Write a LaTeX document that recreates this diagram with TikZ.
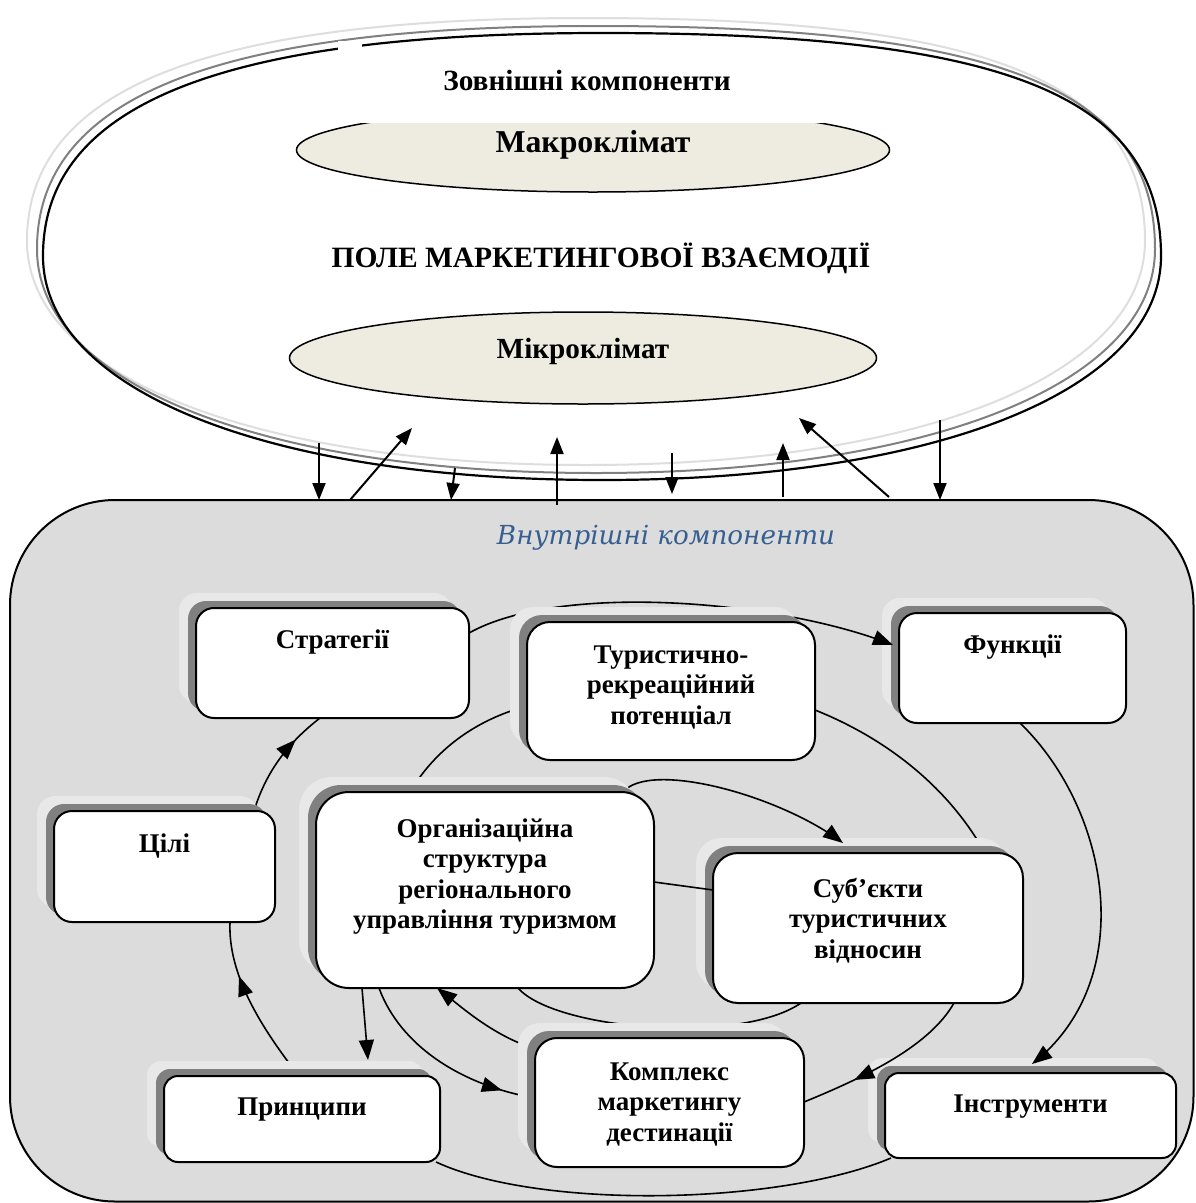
\documentclass[tikz,border=0pt]{standalone}
\usepackage{fontspec}
\setmainfont{Liberation Serif}
\newfontfamily\blueserif{DejaVu Serif}
\usetikzlibrary{arrows.meta,calc,decorations.markings,shapes.geometric}
\pgfdeclarelayer{back}
\pgfdeclarelayer{conn}
\pgfdeclarelayer{front}
\pgfsetlayers{back,conn,main,front}

\definecolor{panelgray}{RGB}{220,220,220}
\definecolor{halogray}{RGB}{232,232,232}
\definecolor{shadowgray}{RGB}{128,128,128}
\definecolor{climfill}{RGB}{238,236,225}
\definecolor{ringlight}{RGB}{222,222,222}
\definecolor{innerblue}{RGB}{54,95,145}

\tikzset{
  tip/.style={-{Triangle[length=20pt,width=15pt]}},
  smalltip/.style={-{Triangle[length=17pt,width=13pt]}},
  conline/.style={line width=1.6pt},
  linkarrow/.style={line width=2pt, smalltip},
  boxtext/.style={font=\fontsize{27}{30.5}\selectfont\bfseries, align=center, inner sep=0pt, anchor=north},
  whitebox/.style={draw, line width=2pt, fill=white, inner sep=0pt, outer sep=0pt},
  midtip/.style={postaction={decorate}, decoration={markings, mark=at position #1 with {\arrow{Triangle[length=20pt,width=15pt]}}}},
  climate/.style={draw, line width=1.5pt, fill=climfill, ellipse, inner sep=0pt},
  lbl/.style={font=\bfseries, anchor=base, inner sep=0pt},
}

\newcommand{\ringpath}{(43,256) .. controls (43,104) and (222,33) .. (602,33)
  .. controls (1004,33) and (1161,95) .. (1161,256)
  .. controls (1161,390) and (937,480) .. (602,480)
  .. controls (267,480) and (43,390) .. (43,256) -- cycle}

\newcommand{\shbox}[8]{%
  \fill[halogray, rounded corners=#6pt] (#2-17,#3-15) rectangle (#4-17,#5-15);
  \fill[shadowgray, rounded corners=#6pt] (#2-8,#3-7) rectangle (#4-8,#5-7);
  \node[whitebox, rounded corners=#6pt, minimum width={(#4-#2)*1pt}, minimum height={(#5-#3)*1pt}] (#1) at ({(#2+#4)/2},{(#3+#5)/2}) {};
  \node[boxtext] (#1-t) at ({(#2+#4)/2},{#8-21.35}) {\strut #7};
}

\begin{document}
\begin{tikzpicture}[x=1pt,y=-1pt]
\useasboundingbox (0,0) rectangle (1195,1203);

\begin{pgfonlayer}{back}
  \fill[white] (0,0) rectangle (1195,1203);
  % field of marketing interaction
  \draw[ringlight, line width=2pt, shift={(-16,-15)}] \ringpath;
  \draw[shadowgray, line width=2pt, shift={(-6,-7)}] \ringpath;
  \draw[black, line width=2.2pt] \ringpath;
  \fill[white] (338,41) rectangle (362,53);
  % climate ellipses
  \node[climate, minimum width=593pt, minimum height=84pt] (macro) at (593,150) {};
  \fill[white] (285,95) rectangle (905,123);
  \node[climate, minimum width=587pt, minimum height=92pt] (micro) at (583,358) {};
  % inner panel
  \node[draw, line width=2pt, fill=panelgray, rounded corners=105pt, minimum width=1183.5pt, minimum height=701.5pt, inner sep=0pt, outer sep=0pt] (inner) at (601.75,850.75) {};
\end{pgfonlayer}

\node[lbl, font=\fontsize{29.3}{33}\selectfont\bfseries] (outerlbl) at (587,90) {Зовнішні компоненти};
\node[lbl, font=\fontsize{31.8}{35}\selectfont\bfseries] (macrolbl) at (macro |- 0,152) {Макроклімат};
\node[lbl, font=\fontsize{29.5}{33}\selectfont\bfseries] (fieldlbl) at (601,267) {ПОЛЕ МАРКЕТИНГОВОЇ ВЗАЄМОДІЇ};
\node[lbl, font=\fontsize{29.2}{33}\selectfont\bfseries] (microlbl) at (micro |- 0,358) {Мікроклімат};
\node[anchor=base, inner sep=0pt, font=\blueserif\itshape\fontsize{26.2}{30}\selectfont, text=innerblue] (innerlbl) at (666,544) {Внутрішні компоненти};

% links between field and inner components
\coordinate (e1) at (319,443);
\coordinate (e2) at (412,428);
\coordinate (e3) at (455,468);
\coordinate (e4) at (557,437);
\coordinate (e5) at (672,453);
\coordinate (e6) at (783,443);
\coordinate (e7) at (799,418);
\coordinate (e8) at (940,420);
\draw[linkarrow] (e1) -- ([xshift=-282.75pt]inner.north);
\draw[linkarrow] ([xshift=-251.75pt]inner.north) -- (e2);
\draw[linkarrow] (e3) -- ([xshift=-150.75pt]inner.north);
\draw[linkarrow] ([xshift=-44.75pt,yshift=-5pt]inner.north) -- (e4);
\draw[linkarrow] (e5) -- ([xshift=70.25pt,yshift=6pt]inner.north);
\draw[linkarrow] ([xshift=181.25pt,yshift=3pt]inner.north) -- (e6);
\draw[linkarrow] ([xshift=287.25pt,yshift=3pt]inner.north) -- (e7);
\draw[linkarrow] (e8) -- ([xshift=338.25pt]inner.north);

% boxes
\shbox{strat}{196}{608}{469}{718}{18}{Стратегії}{648}
\shbox{tur}{527}{622}{815}{760}{23}{Туристично-\\рекреаційний\\потенціал}{663}
\shbox{func}{899}{613}{1126}{723}{18}{Функції}{653}
\shbox{cili}{54}{811}{275}{922}{18}{Цілі}{852}
\shbox{org}{316}{792}{654}{988}{33}{Організаційна\\структура\\регіонального\\управління туризмом}{837}
\shbox{subj}{713}{853}{1023}{1003}{25}{Суб’єкти\\туристичних\\відносин}{897}
\shbox{princ}{164}{1076}{440}{1162}{14}{Принципи}{1115}
\shbox{kompl}{535}{1038}{804}{1167}{22}{Комплекс\\маркетингу\\дестинації}{1080}
\shbox{instr}{885}{1073}{1176}{1158}{14}{Інструменти}{1112}

% connector end points
\coordinate (A0) at ([yshift=30pt]strat.east);
\coordinate (A1) at ([xshift=-6pt,yshift=23pt]func.west);
\coordinate (B0) at ([xshift=7.5pt]func.south);
\coordinate (B1) at ([xshift=1.5pt,yshift=9pt]instr.north);
\coordinate (C0) at ([xshift=6pt]instr.south west);
\coordinate (C1) at ([xshift=-4pt]princ.south east);
\coordinate (D0) at ([xshift=-3pt]princ.north);
\coordinate (D1) at ([xshift=65.5pt]cili.south);
\coordinate (E0) at ([xshift=89.5pt]cili.north);
\coordinate (E1) at ([xshift=-12.5pt]strat.south);
\coordinate (F0) at ([yshift=-15pt]tur.west);
\coordinate (F1) at ([xshift=-75pt]org.north);
\coordinate (G0) at ([yshift=-19pt]tur.east);
\coordinate (G1) at ([xshift=117pt]subj.north);
\coordinate (H0) at ([xshift=86pt]subj.south);
\coordinate (H1) at ([yshift=0.5pt]kompl.east);
\coordinate (I0) at ([xshift=-106pt]org.south);
\coordinate (I1) at ([yshift=4.5pt]kompl.west);
\coordinate (J0) at ([xshift=138pt]org.north);
\coordinate (J1) at ([xshift=-25pt,yshift=10pt]subj.north);
\coordinate (K0) at ([xshift=5pt,yshift=52.5pt]kompl.west);
\coordinate (K1) at ([xshift=-48pt]org.south);
\coordinate (L0) at ([xshift=-123pt]org.south);
\coordinate (L1) at ([xshift=66pt,yshift=16pt]princ.north);
\coordinate (M0) at ([xshift=33pt]org.south);
\coordinate (M1) at ([xshift=-67pt]subj.south);
\coordinate (O0) at ([yshift=8pt]org.east);
\coordinate (O1) at ([yshift=38pt]subj.west);

\begin{pgfonlayer}{conn}
  % outer loop
  \draw[conline] (A0) .. controls (560,582) and (780,600) .. (A1);
  \draw[conline] (B0) .. controls (1110,810) and (1140,980) .. (B1);
  \draw[conline] (C0) .. controls (780,1205) and (540,1210) .. (C1);
  \draw[conline, midtip=0.68] (D0) .. controls (255,1020) and (228,970) .. (D1);
  \draw[conline, midtip=0.72] (E0) .. controls (265,775) and (285,745) .. (E1);
  % middle loop
  \draw[conline] (F0) .. controls (475,720) and (435,750) .. (F1);
  \draw[conline] (G0) .. controls (890,740) and (950,790) .. (G1);
  \draw[conline, midtip=0.83] (I0) .. controls (400,1045) and (460,1085) .. (I1);
  % inner loop
  \draw[conline] (J0) .. controls (650,760) and (780,795) .. (J1);
  \draw[conline, tip] (K0) .. controls (500,1040) and (465,1010) .. (K1);
  \draw[conline, tip] (L0) -- (L1);
  \draw[conline] (M0) .. controls (555,1030) and (740,1045) .. (M1);
\end{pgfonlayer}

\begin{pgfonlayer}{front}
  \draw[conline, tip] ($(A1)!20pt!(780,600)$) -- (A1);
  \draw[conline, tip] ($(B1)!20pt!(1140,980)$) -- (B1);
  \draw[conline, tip] ($(J1)!20pt!(780,795)$) -- (J1);
  \draw[conline, midtip=0.7] (H0) .. controls (930,1045) and (870,1075) .. (H1);
  \draw[conline] (O0) -- (O1);
\end{pgfonlayer}
\end{tikzpicture}
\end{document}
